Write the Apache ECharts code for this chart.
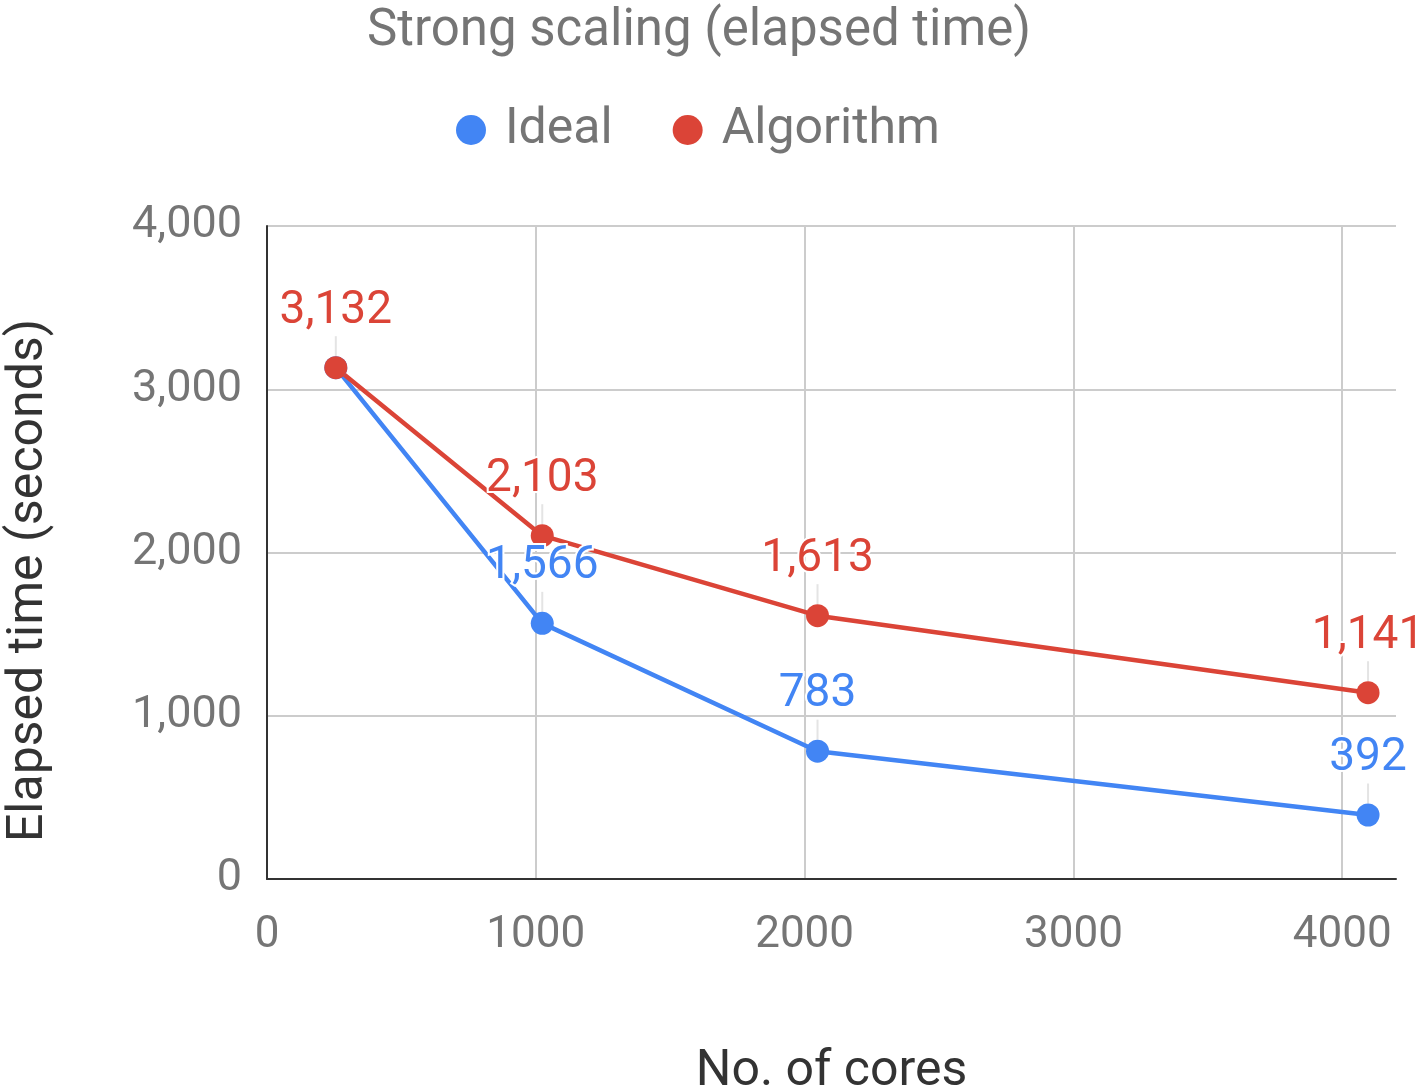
<!DOCTYPE html>
<html><head><meta charset="utf-8">
<script src="https://cdn.jsdelivr.net/npm/echarts@6/dist/echarts.min.js"></script>
<style>html,body{margin:0;padding:0;background:#fff}#c{width:1418px;height:1086px}</style>
</head><body><div id="c"></div>
<script>
const cores = [256, 1024, 2048, 4096];
const ideal = [3132, 1566, 783, 392];
const algorithm = [3132, 2103, 1613, 1141];
const seriesNames = ['Ideal', 'Algorithm'];
const FONT = 'Roboto';
const chart = echarts.init(document.getElementById('c'));
const fmt = v => v.toLocaleString('en-US');
function mk(name, vals, color, hideFirst) {
  return {
    name, type: 'line', data: vals.map((v, i) => {
      const d = { value: [cores[i], v] };
      if (hideFirst && i === 0) d.label = { show: false };
      return d;
    }),
    symbol: 'circle', symbolSize: 23,
    lineStyle: { width: 4.5, color }, itemStyle: { color },
    label: {
      show: true, position: 'top', distance: 4,
      formatter: p => fmt(p.value[1]),
      fontFamily: FONT, fontSize: 46, color,
      textBorderColor: '#fff', textBorderWidth: 4
    },
    labelLayout: { dy: -18 },
    labelLine: { show: true, lineStyle: { color: '#e4e4e4', width: 2 } }
  };
}
chart.setOption({
  animation: false,
  title: { text: 'Strong scaling (elapsed time)', left: 362, top: 2,
    textStyle: { fontFamily: FONT, fontSize: 51, fontWeight: 'normal', color: '#757575' } },
  legend: { top: 100, left: 451, icon: 'circle', itemWidth: 30, itemHeight: 30, itemGap: 60,
    data: seriesNames,
    textStyle: { fontFamily: FONT, fontSize: 50, color: '#757575', padding: [0, 0, 0, 14] } },
  grid: { left: 267, right: 22, top: 226, bottom: 207, containLabel: false, outerBoundsMode: 'none' },
  xAxis: {
    type: 'value', min: 0, max: 4200, interval: 1000,
    name: 'No. of cores', nameLocation: 'middle', nameGap: 168,
    nameTextStyle: { fontFamily: FONT, fontSize: 50, color: '#333' },
    axisLine: { show: true, lineStyle: { color: '#333', width: 2 } },
    axisTick: { show: false },
    axisLabel: { fontFamily: FONT, fontSize: 44, color: '#757575', margin: 35, showMaxLabel: false, formatter: v => String(v) },
    splitLine: { show: true, showMaxLine: false, lineStyle: { color: '#ccc', width: 2 } }
  },
  yAxis: {
    type: 'value', min: 0, max: 4000, interval: 1000,
    name: 'Elapsed time (seconds)', nameLocation: 'middle', nameGap: 213,
    nameTextStyle: { fontFamily: FONT, fontSize: 50, color: '#333', padding: [0, 0, 0, -56] },
    axisLine: { show: true, lineStyle: { color: '#333', width: 2 } },
    axisTick: { show: false },
    axisLabel: { fontFamily: FONT, fontSize: 45, color: '#757575', margin: 25, padding: [8, 0, 0, 0], formatter: v => fmt(v) },
    splitLine: { show: true, lineStyle: { color: '#ccc', width: 2 } }
  },
  color: ['#4285F4', '#DB4437'],
  series: [mk('Ideal', ideal, '#4285F4', true), mk('Algorithm', algorithm, '#DB4437', false)]
});
</script></body></html>
